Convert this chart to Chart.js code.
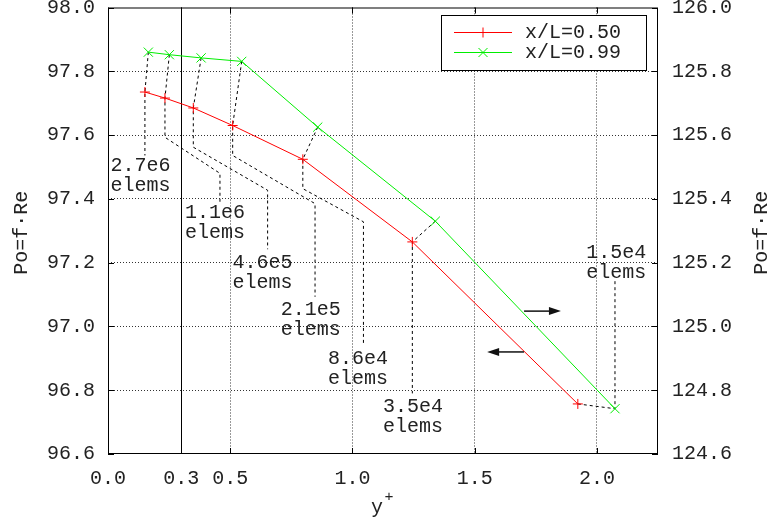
<!DOCTYPE html>
<html>
<head>
<meta charset="utf-8">
<script src="https://cdn.jsdelivr.net/npm/chart.js@4.4.1/dist/chart.umd.min.js"></script>
<style>
html, body { margin: 0; padding: 0; background: #fff; }
#wrap { width: 768px; height: 528px; }
</style>
</head>
<body>
<div id="wrap"><canvas id="poChart" width="768" height="528"></canvas></div>
<script>
// mesh sizes, one per simulation
const meshLabels = ['2.7e6', '1.1e6', '4.6e5', '2.1e5', '8.6e4', '3.5e4', '1.5e4'];

// x/L = 0.50 (left axis)
const yPlusMid = [0.151, 0.233, 0.349, 0.510, 0.797, 1.245, 1.922];
const poMid = [97.735, 97.716, 97.685, 97.630, 97.524, 97.265, 96.757];

// x/L = 0.99 (right axis)
const yPlusEnd = [0.165, 0.251, 0.381, 0.547, 0.858, 1.339, 2.074];
const poEnd = [125.860, 125.852, 125.842, 125.831, 125.625, 125.330, 124.742];

const xTicks = [0, 0.3, 0.5, 1.0, 1.5, 2.0];
const xRange = [0, 2.25];
const leftRange = [96.6, 98.0];
const rightRange = [124.6, 126.0];
const yPlusLimit = 0.3;

// leader lines from each pair of points to its label (y+, left-axis Po)
const leaderBends = [
    [[0.151, 97.536]],
    [[0.233, 97.593], [0.458, 97.480], [0.458, 97.389]],
    [[0.349, 97.562], [0.653, 97.427], [0.653, 97.242]],
    [[0.510, 97.536], [0.847, 97.385], [0.847, 97.093]],
    [[0.797, 97.432], [1.045, 97.328], [1.045, 96.947]],
    [[1.245, 96.790]],
    [[2.074, 97.145]]
];
const labelSpots = [
    [0.133, 97.474], [0.438, 97.324], [0.632, 97.170], [0.829, 97.021],
    [1.023, 96.869], [1.248, 96.718], [2.079, 97.201]
];

// arrows telling which curve belongs to which axis
const arrowFrom = [[1.702, 97.048], [1.702, 96.920]];
const arrowTo = [[1.853, 97.048], [1.551, 96.920]];

const monoFont = '"Liberation Mono", "DejaVu Sans Mono", monospace';
const textColor = '#222';

function toLeft(v) {
    return leftRange[0] + (v - rightRange[0]);
}

function buildLeaders() {
    let sets = [];
    for (let i = 0; i < meshLabels.length; i++) {
        let red = {x: yPlusMid[i], y: poMid[i]};
        let green = {x: yPlusEnd[i], y: toLeft(poEnd[i])};
        // last mesh: leader goes from red to green then up
        let pts = i === meshLabels.length - 1 ? [red, green] : [green, red];
        leaderBends[i].forEach(p => pts.push({x: p[0], y: p[1]}));
        sets.push({
            label: 'leader ' + meshLabels[i],
            data: pts,
            yAxisID: 'y',
            borderColor: '#000',
            borderWidth: 1,
            borderDash: [3, 3],
            pointRadius: 0,
            fill: false,
            tension: 0,
            order: 5
        });
    }
    return sets;
}

function noPad(scale) {
    scale.paddingTop = 0;
    scale.paddingBottom = 0;
    scale.paddingLeft = 0;
    scale.paddingRight = 0;
}

const decor = {
    id: 'decor',
    beforeDatasetsDraw(chart) {
        const {ctx, chartArea, scales} = chart;
        let px = Math.round(scales.x.getPixelForValue(yPlusLimit)) + 0.5;
        ctx.save();
        ctx.strokeStyle = '#000';
        ctx.lineWidth = 1;
        ctx.beginPath();
        ctx.moveTo(px, chartArea.top);
        ctx.lineTo(px, chartArea.bottom);
        ctx.stroke();
        ctx.restore();
    },
    afterDatasetsDraw(chart) {
        const {ctx, chartArea, scales} = chart;
        const a = chartArea;
        ctx.save();

        // frame and inward ticks
        ctx.strokeStyle = '#000';
        ctx.lineWidth = 1;
        ctx.strokeRect(a.left + 0.5, a.top + 0.5, a.right - a.left - 1, a.bottom - a.top - 1);
        ctx.beginPath();
        xTicks.forEach(v => {
            let p = Math.round(scales.x.getPixelForValue(v)) + 0.5;
            ctx.moveTo(p, a.bottom); ctx.lineTo(p, a.bottom - 6);
            ctx.moveTo(p, a.top); ctx.lineTo(p, a.top + 6);
        });
        scales.y.ticks.forEach(t => {
            let p = Math.round(scales.y.getPixelForValue(t.value)) + 0.5;
            ctx.moveTo(a.left, p); ctx.lineTo(a.left + 6, p);
            ctx.moveTo(a.right, p); ctx.lineTo(a.right - 6, p);
        });
        ctx.stroke();

        // mesh labels
        ctx.fillStyle = textColor;
        ctx.font = '20px ' + monoFont;
        ctx.textAlign = 'center';
        ctx.textBaseline = 'middle';
        labelSpots.forEach((s, i) => {
            let cx = scales.x.getPixelForValue(s[0]);
            let cy = scales.y.getPixelForValue(s[1]);
            ctx.fillText(meshLabels[i], cx, cy - 10);
            ctx.fillText('elems', cx, cy + 10);
        });

        // arrows
        ctx.strokeStyle = '#111';
        ctx.fillStyle = '#111';
        ctx.lineWidth = 1.5;
        arrowFrom.forEach((f, i) => {
            let x0 = scales.x.getPixelForValue(f[0]);
            let y0 = scales.y.getPixelForValue(f[1]);
            let x1 = scales.x.getPixelForValue(arrowTo[i][0]);
            let y1 = scales.y.getPixelForValue(arrowTo[i][1]);
            let dir = Math.sign(x1 - x0);
            ctx.beginPath();
            ctx.moveTo(x0, y0);
            ctx.lineTo(x1 - dir * 8, y1);
            ctx.stroke();
            ctx.beginPath();
            ctx.moveTo(x1, y1);
            ctx.lineTo(x1 - dir * 12, y1 - 4);
            ctx.lineTo(x1 - dir * 12, y1 + 4);
            ctx.closePath();
            ctx.fill();
        });

        // legend box
        let bw = 205, bh = 55;
        let bx = a.right - 12 - bw, by = a.top + 7;
        ctx.fillStyle = '#fff';
        ctx.fillRect(bx, by, bw, bh);
        ctx.strokeStyle = '#000';
        ctx.lineWidth = 1;
        ctx.strokeRect(Math.round(bx) + 0.5, Math.round(by) + 0.5, bw, bh);
        chart.data.datasets.slice(0, 2).forEach((ds, i) => {
            let ly = by + 18 + i * 20;
            let lx0 = bx + 13, lx1 = bx + 71, mx = (lx0 + lx1) / 2;
            ctx.strokeStyle = ds.borderColor;
            ctx.lineWidth = 1;
            ctx.beginPath();
            ctx.moveTo(lx0, ly); ctx.lineTo(lx1, ly);
            let r = i === 0 ? 5 : 4.5;
            if (i === 0) {
                ctx.moveTo(mx - r, ly); ctx.lineTo(mx + r, ly);
                ctx.moveTo(mx, ly - r); ctx.lineTo(mx, ly + r);
            } else {
                ctx.moveTo(mx - r, ly - r); ctx.lineTo(mx + r, ly + r);
                ctx.moveTo(mx - r, ly + r); ctx.lineTo(mx + r, ly - r);
            }
            ctx.stroke();
            ctx.fillStyle = textColor;
            ctx.textAlign = 'left';
            ctx.fillText(ds.label, bx + 84, ly);
        });

        // axis titles
        ctx.fillStyle = textColor;
        ctx.font = '20px ' + monoFont;
        ctx.textAlign = 'center';
        let midY = (a.top + a.bottom) / 2 + 2;
        [22, chart.width - 6].forEach(tx => {
            ctx.save();
            ctx.translate(tx, midY);
            ctx.rotate(-Math.PI / 2);
            ctx.fillText('Po=f\u00b7Re', 0, 0);
            ctx.restore();
        });
        let midX = (a.left + a.right) / 2;
        ctx.fillText('y', midX - 6, 508);
        ctx.font = '15px ' + monoFont;
        ctx.fillText('+', midX + 6, 497);

        ctx.restore();
    }
};

const gridColor = (ends) => (c) => {
    if (!c.tick) return '#333';
    return ends.some(v => Math.abs(c.tick.value - v) < 1e-6) ? 'rgba(0,0,0,0)' : '#333';
};

new Chart(document.getElementById('poChart'), {
    type: 'line',
    data: {
        datasets: [
            {
                label: 'x/L=0.50',
                data: yPlusMid.map((v, i) => ({x: v, y: poMid[i]})),
                yAxisID: 'y',
                borderColor: '#ff0000',
                backgroundColor: '#ff0000',
                borderWidth: 1,
                pointStyle: 'cross',
                pointRadius: 5,
                pointBorderWidth: 1,
                tension: 0,
                fill: false,
                order: 1
            },
            {
                label: 'x/L=0.99',
                data: yPlusEnd.map((v, i) => ({x: v, y: poEnd[i]})),
                yAxisID: 'y2',
                borderColor: '#00ee00',
                backgroundColor: '#00ee00',
                borderWidth: 1,
                pointStyle: 'crossRot',
                pointRadius: 6.5,
                pointBorderWidth: 1,
                tension: 0,
                fill: false,
                order: 1
            },
            ...buildLeaders()
        ]
    },
    options: {
        responsive: false,
        animation: false,
        events: [],
        layout: {padding: {top: 7, left: 0, right: 0, bottom: 0}},
        plugins: {
            legend: {display: false},
            tooltip: {enabled: false}
        },
        scales: {
            x: {
                type: 'linear',
                min: xRange[0],
                max: xRange[1],
                afterBuildTicks: scale => { scale.ticks = xTicks.map(v => ({value: v})); },
                afterFit: scale => { scale.height = 74; noPad(scale); },
                grid: {color: gridColor([0, yPlusLimit, xRange[1]]), lineWidth: 1, drawTicks: false},
                border: {display: false, dash: [1, 2]},
                ticks: {
                    padding: 13,
                    color: textColor,
                    font: {family: monoFont, size: 20},
                    maxRotation: 0,
                    autoSkip: false,
                    callback: v => Number(v).toFixed(1)
                }
            },
            y: {
                type: 'linear',
                position: 'left',
                min: leftRange[0],
                max: leftRange[1],
                afterFit: scale => { scale.width = 108; noPad(scale); },
                grid: {color: gridColor(leftRange), lineWidth: 1, drawTicks: false},
                border: {display: false, dash: [1, 2]},
                ticks: {
                    stepSize: 0.2,
                    padding: 13,
                    color: textColor,
                    font: {family: monoFont, size: 20},
                    callback: v => Number(v).toFixed(1)
                }
            },
            y2: {
                type: 'linear',
                position: 'right',
                min: rightRange[0],
                max: rightRange[1],
                afterFit: scale => { scale.width = 110; noPad(scale); },
                grid: {display: false, drawTicks: false},
                border: {display: false},
                ticks: {
                    stepSize: 0.2,
                    padding: 14,
                    color: textColor,
                    font: {family: monoFont, size: 20},
                    callback: v => Number(v).toFixed(1)
                }
            }
        }
    },
    plugins: [decor]
});
</script>
</body>
</html>
